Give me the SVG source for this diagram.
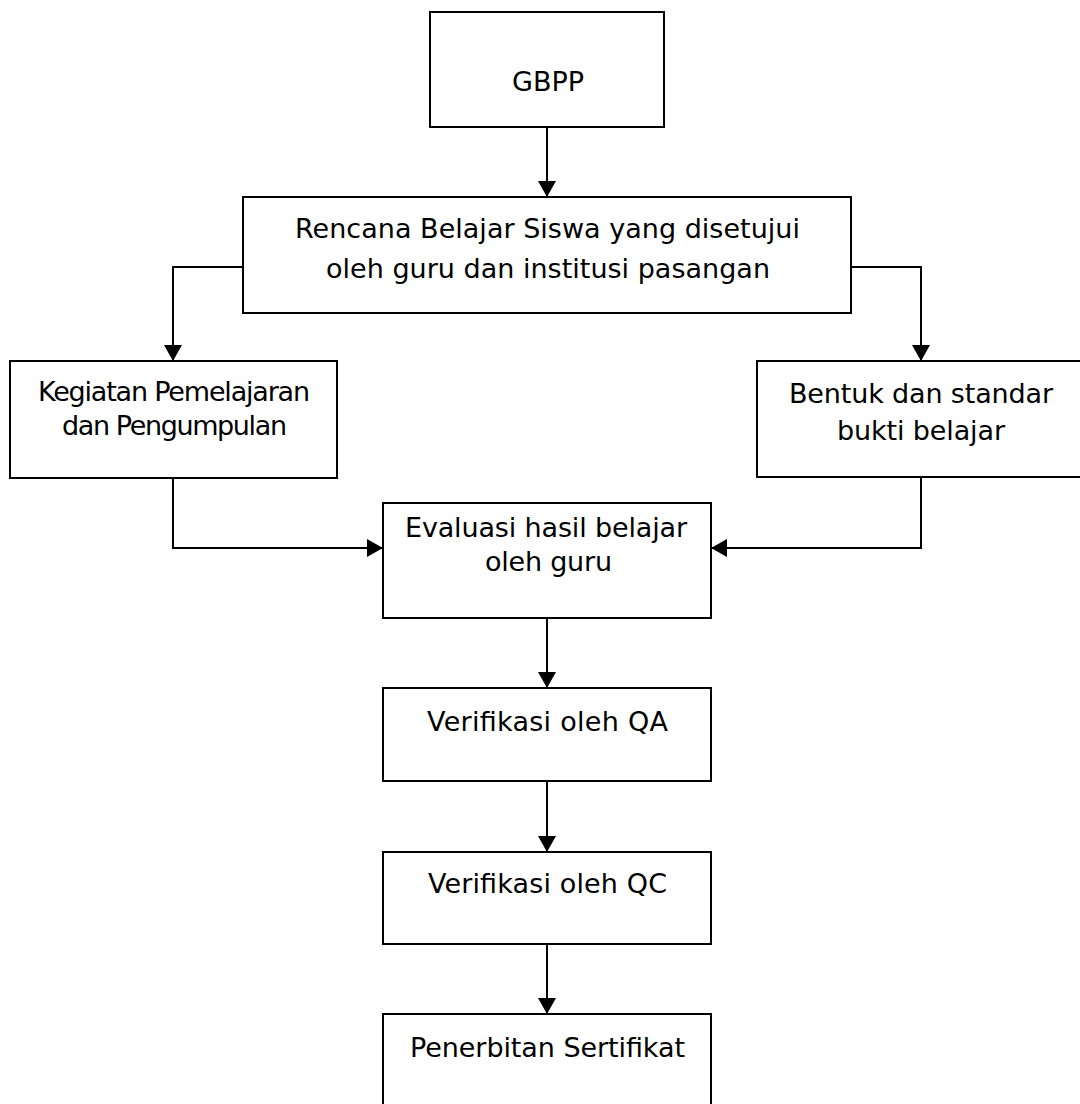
<svg xmlns="http://www.w3.org/2000/svg" width="1080" height="1104" viewBox="0 0 1080 1104">
<style>
.box{fill:#fff;stroke:#000;stroke-width:2}
.t{font-family:"DejaVu Sans",Verdana,sans-serif;font-size:27px;fill:#000;text-anchor:middle}
.c{fill:none;stroke:#000;stroke-width:2}
</style>
<defs>
<marker id="ah" markerUnits="userSpaceOnUse" markerWidth="18" markerHeight="18" viewBox="0 0 16 18" refX="16" refY="9" orient="auto">
<path d="M0,0 L16,9 L0,18 z" fill="#000"/>
</marker>
</defs>
<rect width="1080" height="1104" fill="#fff"/>
<g id="connectors">
<path class="c" d="M547,127 V197" marker-end="url(#ah)"/>
<path class="c" d="M243,267 H173 V361" marker-end="url(#ah)"/>
<path class="c" d="M851,267 H921 V361" marker-end="url(#ah)"/>
<path class="c" d="M173,478 V548 H383" marker-end="url(#ah)"/>
<path class="c" d="M921,477 V548 H711" marker-end="url(#ah)"/>
<path class="c" d="M547,618 V688" marker-end="url(#ah)"/>
<path class="c" d="M547,781 V852" marker-end="url(#ah)"/>
<path class="c" d="M547,944 V1014" marker-end="url(#ah)"/>
</g>
<g id="gbpp">
<rect class="box" x="430" y="12" width="234" height="115"/>
<text class="t" x="548" y="91" textLength="72" lengthAdjust="spacing">GBPP</text>
</g>
<g id="rencana">
<rect class="box" x="243" y="197" width="608" height="116"/>
<text class="t" x="547.5" y="238" textLength="505" lengthAdjust="spacing">Rencana Belajar Siswa yang disetujui</text>
<text class="t" x="548" y="278" textLength="444" lengthAdjust="spacing">oleh guru dan institusi pasangan</text>
</g>
<g id="kegiatan">
<rect class="box" x="10" y="361" width="327" height="117"/>
<text class="t" x="174" y="401" textLength="272" lengthAdjust="spacing">Kegiatan Pemelajaran</text>
<text class="t" x="174.5" y="435" textLength="225" lengthAdjust="spacing">dan Pengumpulan</text>
</g>
<g id="bentuk">
<rect class="box" x="757" y="361" width="335" height="116"/>
<text class="t" x="921" y="403" textLength="264" lengthAdjust="spacing">Bentuk dan standar</text>
<text class="t" x="921" y="440" textLength="168" lengthAdjust="spacing">bukti belajar</text>
</g>
<g id="evaluasi">
<rect class="box" x="383" y="503" width="328" height="115"/>
<text class="t" x="546" y="537" textLength="282" lengthAdjust="spacing">Evaluasi hasil belajar</text>
<text class="t" x="548.5" y="571" textLength="127" lengthAdjust="spacing">oleh guru</text>
</g>
<g id="qa">
<rect class="box" x="383" y="688" width="328" height="93"/>
<text class="t" x="547.5" y="731" textLength="241" lengthAdjust="spacing">Verifikasi oleh QA</text>
</g>
<g id="qc">
<rect class="box" x="383" y="852" width="328" height="92"/>
<text class="t" x="547.5" y="893" textLength="239" lengthAdjust="spacing">Verifikasi oleh QC</text>
</g>
<g id="penerbitan">
<rect class="box" x="383" y="1014" width="328" height="100"/>
<text class="t" x="547.5" y="1057" textLength="275" lengthAdjust="spacing">Penerbitan Sertifikat</text>
</g>
</svg>
